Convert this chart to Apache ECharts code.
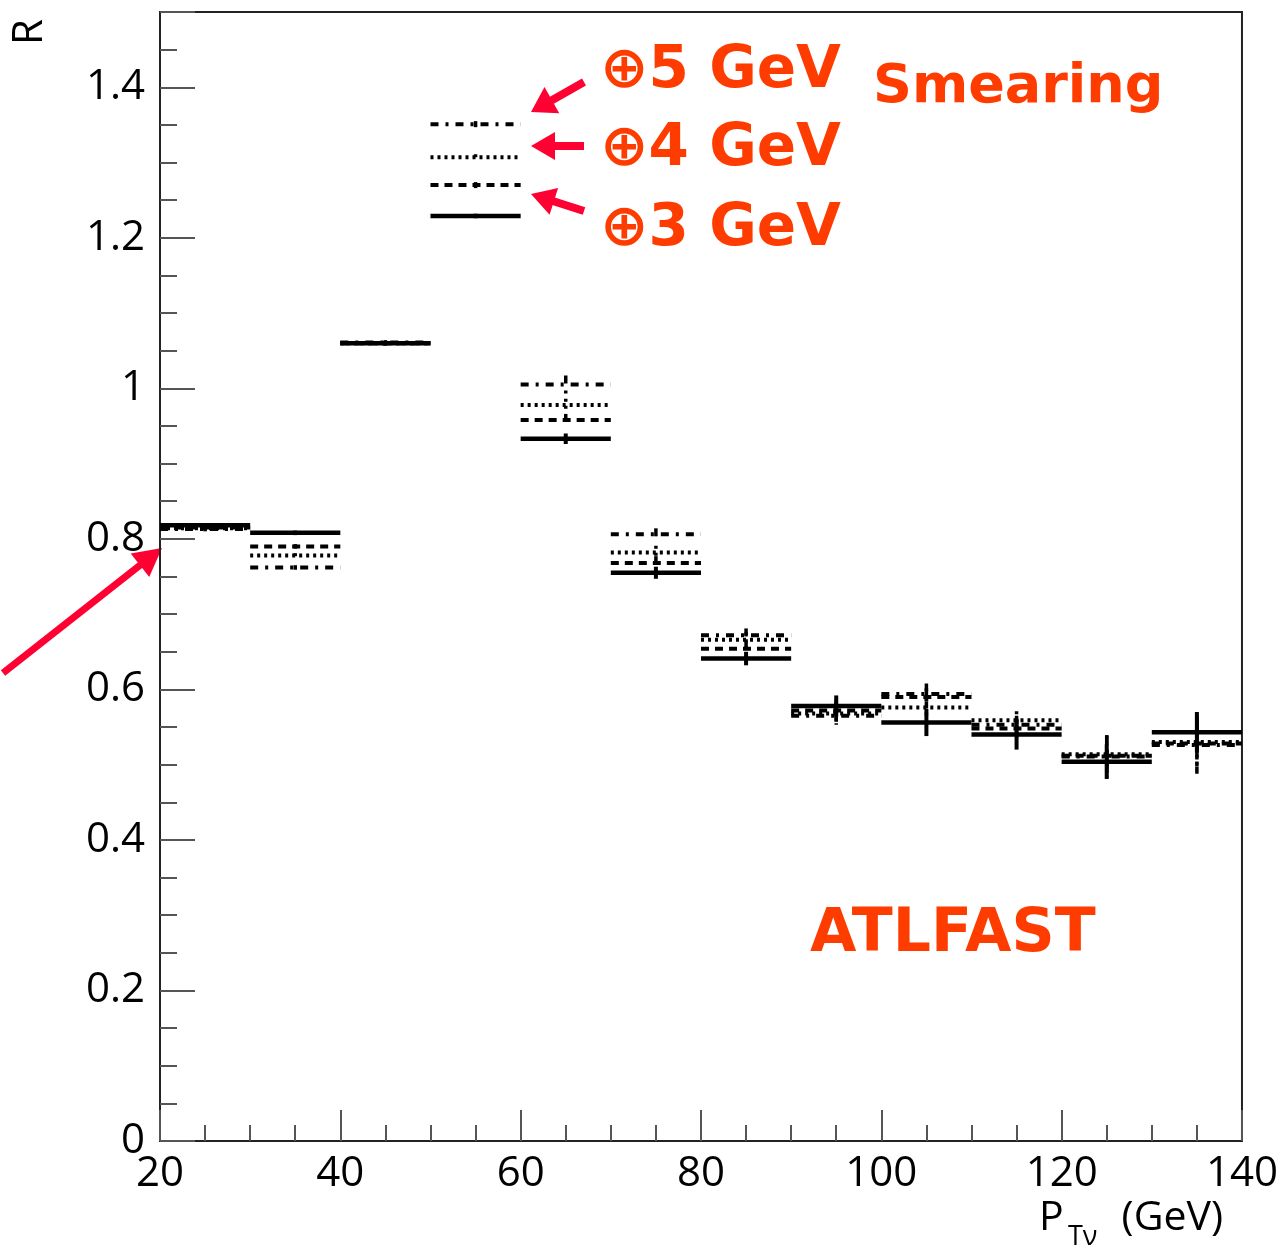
<!DOCTYPE html>
<html>
<head>
<meta charset="utf-8">
<script src="https://cdn.jsdelivr.net/npm/echarts@6/dist/echarts.min.js"></script>
<style>
  html, body { margin: 0; padding: 0; background: #fff; }
  #chart { width: 1281px; height: 1251px; }
</style>
</head>
<body>
<div id="chart"></div>
<script>
// Bin edges of P_Tnu (GeV); every bin is 10 GeV wide
const binEdges = [20, 30, 40, 50, 60, 70, 80, 90, 100, 110, 120, 130, 140];

// Ratio R per bin, without smearing and with extra smearing of 3, 4, 5 GeV
const noSmear = [0.818, 0.808, 1.060, 1.229, 0.933, 0.755, 0.641, 0.578, 0.556, 0.540, 0.504, 0.543];
const smear3  = [0.815, 0.790, 1.060, 1.270, 0.958, 0.768, 0.654, 0.572, 0.590, 0.548, 0.512, 0.528];
const smear4  = [0.814, 0.778, 1.060, 1.307, 0.978, 0.782, 0.666, 0.568, 0.576, 0.559, 0.514, 0.530];
const smear5  = [0.813, 0.762, 1.061, 1.351, 1.005, 0.806, 0.672, 0.565, 0.594, 0.553, 0.511, 0.526];

// Statistical uncertainties per bin
const errNoSmear = [0.003, 0.003, 0.003, 0.003, 0.007, 0.008, 0.009, 0.014, 0.018, 0.020, 0.023, 0.027];
const errSmear3  = [0.003, 0.003, 0.003, 0.004, 0.008, 0.009, 0.010, 0.015, 0.012, 0.012, 0.025, 0.030];
const errSmear4  = [0.003, 0.003, 0.003, 0.004, 0.008, 0.009, 0.010, 0.015, 0.012, 0.012, 0.025, 0.030];
const errSmear5  = [0.003, 0.003, 0.003, 0.004, 0.012, 0.008, 0.009, 0.016, 0.014, 0.012, 0.028, 0.038];

// Axis tick labels
const xTicks = [20, 40, 60, 80, 100, 120, 140];
const yTicks = [0, 0.2, 0.4, 0.6, 0.8, 1, 1.2, 1.4];

function histData(values, errs) {
  return values.map((v, i) => [binEdges[i], binEdges[i + 1], v, errs[i]]);
}

function stepRenderer(lineWidth, dash) {
  return function (params, api) {
    const lo = api.value(0), hi = api.value(1), v = api.value(2), e = api.value(3);
    const a = api.coord([lo, v]);
    const b = api.coord([hi, v]);
    const mid = (lo + hi) / 2;
    const t = api.coord([mid, v + e]);
    const d = api.coord([mid, v - e]);
    return {
      type: 'group',
      children: [
        { type: 'line', shape: { x1: a[0], y1: a[1], x2: b[0], y2: b[1] },
          style: { stroke: '#000', lineWidth: lineWidth, lineDash: dash } },
        { type: 'line', shape: { x1: t[0], y1: t[1], x2: d[0], y2: d[1] },
          style: { stroke: '#000', lineWidth: lineWidth - 0.5, lineDash: dash } }
      ]
    };
  };
}

const seriesDefs = [
  { name: '\u2295 5 GeV', values: smear5, errs: errSmear5, lw: 4, dash: [8, 7, 3, 7] },
  { name: '\u2295 4 GeV', values: smear4, errs: errSmear4, lw: 4, dash: [3, 4] },
  { name: '\u2295 3 GeV', values: smear3, errs: errSmear3, lw: 4, dash: [8, 6] },
  { name: 'no smearing', values: noSmear, errs: errNoSmear, lw: 4.5, dash: null }
];

const red = '#ff3c00';
const arrowRed = '#ff0033';
const handFont = '"Comic Sans MS", "DejaVu Sans", sans-serif';
const axisFont = '"Open Sans", "Liberation Sans", sans-serif';

function arrow(x1, y1, x2, y2, width, headLen, headHalf) {
  const dx = x2 - x1, dy = y2 - y1;
  const len = Math.sqrt(dx * dx + dy * dy);
  const ux = dx / len, uy = dy / len;
  const bx = x2 - ux * headLen, by = y2 - uy * headLen;
  const nx = -uy, ny = ux;
  return {
    type: 'group',
    children: [
      { type: 'line', shape: { x1: x1, y1: y1, x2: bx + ux * 2, y2: by + uy * 2 },
        style: { stroke: arrowRed, lineWidth: width } },
      { type: 'polygon', shape: { points: [[x2, y2], [bx + nx * headHalf, by + ny * headHalf], [bx - nx * headHalf, by - ny * headHalf]] },
        style: { fill: arrowRed } }
    ]
  };
}

function redLabel(text, x, y, size) {
  return { type: 'text', x: x, y: y,
    style: { text: text, fontSize: size, fontWeight: 'bold', fontFamily: handFont, fill: red, verticalAlign: 'middle' } };
}

const chart = echarts.init(document.getElementById('chart'), null, { renderer: 'canvas' });
chart.setOption({
  animation: false,
  backgroundColor: '#fff',
  grid: { left: 160, right: 39, top: 12, bottom: 110, show: true, borderColor: '#222', borderWidth: 2 },
  xAxis: {
    type: 'value', min: 20, max: 140, interval: 20,
    axisLine: { show: true, onZero: false, lineStyle: { color: '#222', width: 2 } },
    axisTick: { show: true, inside: true, length: 31, lineStyle: { color: '#555', width: 2 } },
    minorTick: { show: true, splitNumber: 4, length: 16, lineStyle: { color: '#555', width: 2 } },
    splitLine: { show: false },
    axisLabel: {
      margin: 12, fontSize: 42, color: '#000', fontFamily: axisFont,
      formatter: v => (xTicks.indexOf(v) >= 0 ? String(v) : '')
    }
  },
  yAxis: {
    type: 'value', min: 0, max: 1.5, interval: 0.2,
    axisLine: { show: true, onZero: false, lineStyle: { color: '#222', width: 2 } },
    axisTick: { show: true, inside: true, length: 35, lineStyle: { color: '#555', width: 2 } },
    minorTick: { show: true, splitNumber: 4, length: 17, lineStyle: { color: '#555', width: 2 } },
    splitLine: { show: false },
    axisLabel: {
      margin: 15, fontSize: 42, color: '#000', fontFamily: axisFont,
      showMaxLabel: false,
      formatter: v => {
        const r = Math.round(v * 10) / 10;
        return yTicks.indexOf(r) >= 0 ? String(r) : '';
      }
    }
  },
  series: seriesDefs.map(s => ({
    type: 'custom',
    name: s.name,
    renderItem: stepRenderer(s.lw, s.dash),
    encode: { x: [0, 1], y: 2 },
    data: histData(s.values, s.errs),
    clip: false
  })),
  graphic: [
    // axis titles
    { type: 'text', x: 30, y: 32, rotation: Math.PI / 2,
      style: { text: 'R', fontSize: 42, fontFamily: axisFont, fill: '#000', align: 'center', verticalAlign: 'middle' } },
    { type: 'text', x: 1039, y: 1218,
      style: { text: 'P', fontSize: 41, fontFamily: axisFont, fill: '#000', verticalAlign: 'middle' } },
    { type: 'text', x: 1068, y: 1237,
      style: { text: 'T\u03bd', fontSize: 27, fontFamily: axisFont, fill: '#000', verticalAlign: 'middle' } },
    { type: 'text', x: 1223, y: 1218,
      style: { text: '(GeV)', fontSize: 41, fontFamily: axisFont, fill: '#000', align: 'right', verticalAlign: 'middle' } },
    // annotations
    redLabel('\u22955 GeV', 600, 72, 58),
    redLabel('\u22954 GeV', 600, 150, 58),
    redLabel('\u22953 GeV', 600, 230, 58),
    redLabel('Smearing', 873, 88, 54),
    redLabel('ATLFAST', 810, 935, 60),
    arrow(584, 82, 531, 112, 8, 24, 15),
    arrow(584, 146, 531, 146, 8, 24, 14),
    arrow(584, 211, 531, 194, 8, 24, 14),
    arrow(3, 673, 162, 548, 7, 28, 15)
  ]
});
</script>
</body>
</html>
